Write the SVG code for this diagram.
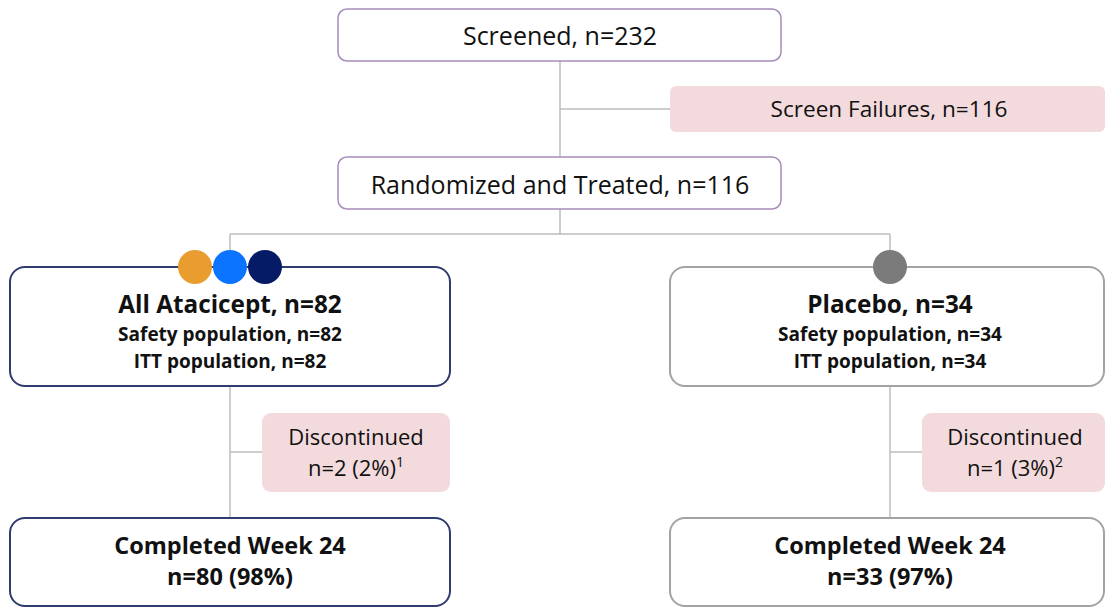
<svg xmlns="http://www.w3.org/2000/svg" width="1106" height="608" viewBox="0 0 1106 608">
<style>
text{font-family:"Open Sans","Noto Sans",sans-serif;fill:#111;text-anchor:middle}
.top{fill:#fff;stroke:#a68cba;stroke-width:1.5}
.pink{fill:#f2dadd;stroke:none}
.navy{fill:#fff;stroke:#2e3d6e;stroke-width:2}
.grey{fill:#fff;stroke:#a3a3a3;stroke-width:2}
.conn{stroke:#bdbdbd;stroke-width:1.5;fill:none}
.t1{font-size:25px}
.t2{font-size:22.6px}
.d{font-size:22px}
.h{font-size:24.3px;font-weight:bold}
.s{font-size:19px;font-weight:bold}
.c{font-size:23.5px;font-weight:bold}
.sup{font-size:14px}
</style>
<rect width="1106" height="608" fill="#fff"/>
<g id="connectors" class="conn">
<path d="M560 61V157M560 109H670"/>
<path d="M560 209V234M230 234H890M230 234V267M890 234V267"/>
<path d="M230 386V518M230 452H262"/>
<path d="M890 386V518M890 452H922"/>
</g>
<g id="screened">
<rect class="top" x="338" y="9" width="443" height="52" rx="9"/>
<text class="t1" x="560" y="45">Screened, n=232</text>
</g>
<g id="screen-failures">
<rect class="pink" x="670" y="86" width="435" height="46" rx="6"/>
<text class="t2" x="889" y="117">Screen Failures, n=116</text>
</g>
<g id="randomized">
<rect class="top" x="338" y="157" width="443" height="52" rx="9"/>
<text class="t1" x="560" y="194">Randomized and Treated, n=116</text>
</g>
<g id="atacicept">
<rect class="navy" x="10" y="267" width="440" height="119" rx="15"/>
<circle cx="195" cy="267" r="17" fill="#e99d2e"/>
<circle cx="230" cy="267" r="17" fill="#0a74ff"/>
<circle cx="265" cy="267" r="17" fill="#061b66"/>
<text class="h" x="230" y="313">All Atacicept, n=82</text>
<text class="s" x="230" y="341">Safety population, n=82</text>
<text class="s" x="230" y="368">ITT population, n=82</text>
</g>
<g id="placebo">
<rect class="grey" x="670" y="267" width="434" height="119" rx="15"/>
<circle cx="890" cy="267" r="17" fill="#7b7b7b"/>
<text class="h" x="890" y="313">Placebo, n=34</text>
<text class="s" x="890" y="341">Safety population, n=34</text>
<text class="s" x="890" y="368">ITT population, n=34</text>
</g>
<g id="disc-left">
<rect class="pink" x="262" y="413" width="188" height="79" rx="9"/>
<text class="d" x="356" y="445">Discontinued</text>
<text class="d" x="356" y="476">n=2 (2%)<tspan class="sup" dy="-9">1</tspan></text>
</g>
<g id="disc-right">
<rect class="pink" x="922" y="413" width="183" height="79" rx="9"/>
<text class="d" x="1015" y="445">Discontinued</text>
<text class="d" x="1015" y="476">n=1 (3%)<tspan class="sup" dy="-9">2</tspan></text>
</g>
<g id="completed-left">
<rect class="navy" x="10" y="518" width="440" height="88" rx="15"/>
<text class="c" x="230" y="554">Completed Week 24</text>
<text class="c" x="230" y="585">n=80 (98%)</text>
</g>
<g id="completed-right">
<rect class="grey" x="670" y="518" width="434" height="88" rx="15"/>
<text class="c" x="890" y="554">Completed Week 24</text>
<text class="c" x="890" y="585">n=33 (97%)</text>
</g>
</svg>
